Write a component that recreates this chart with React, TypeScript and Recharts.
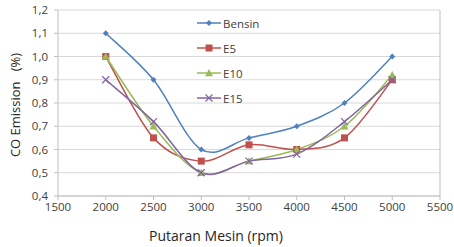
import React from 'react';
import { LineChart, Line, XAxis, YAxis, CartesianGrid } from 'recharts';

const rpm = [2000, 2500, 3000, 3500, 4000, 4500, 5000];
const bensin = [1.1, 0.9, 0.6, 0.65, 0.7, 0.8, 1.0];
const e5 = [1.0, 0.65, 0.55, 0.62, 0.6, 0.65, 0.9];
const e10 = [1.0, 0.7, 0.5, 0.55, 0.6, 0.7, 0.92];
const e15 = [0.9, 0.72, 0.5, 0.55, 0.58, 0.72, 0.9];
const seriesNames = ['Bensin', 'E5', 'E10', 'E15'];
const xTicks = [1500, 2000, 2500, 3000, 3500, 4000, 4500, 5000, 5500];
const yTicks = [0.4, 0.5, 0.6, 0.7, 0.8, 0.9, 1.0, 1.1, 1.2];

const data = rpm.map((r, i) => ({ rpm: r, Bensin: bensin[i], E5: e5[i], E10: e10[i], E15: e15[i] }));

const FONT = 'Open Sans, sans-serif';
const COLORS: Record<string, string> = { Bensin: '#4F81BD', E5: '#C0504D', E10: '#9BBB59', E15: '#8064A2' };

// Excel-like smoothed line (Catmull-Rom style bezier)
const excelCurve = (context: any) => {
  let pts: number[][] = [];
  return {
    areaStart() {},
    areaEnd() {},
    lineStart() { pts = []; },
    point(x: number, y: number) { pts.push([+x, +y]); },
    lineEnd() {
      if (!pts.length) return;
      context.moveTo(pts[0][0], pts[0][1]);
      for (let i = 0; i < pts.length - 1; i++) {
        const p0 = pts[i - 1] || pts[i];
        const p1 = pts[i];
        const p2 = pts[i + 1];
        const p3 = pts[i + 2] || pts[i + 1];
        const c1x = p1[0] + (p2[0] - p0[0]) / 6;
        const c1y = p1[1] + (p2[1] - p0[1]) / 6;
        const c2x = p2[0] - (p3[0] - p1[0]) / 6;
        const c2y = p2[1] - (p3[1] - p1[1]) / 6;
        context.bezierCurveTo(c1x, c1y, c2x, c2y, p2[0], p2[1]);
      }
    },
  };
};

const Marker = ({ kind, cx, cy, color }: { kind: string; cx: number; cy: number; color: string }) => {
  if (cx == null || cy == null) return null;
  if (kind === 'Bensin') {
    const r = 3;
    return <path d={`M${cx},${cy - r}L${cx + r},${cy}L${cx},${cy + r}L${cx - r},${cy}Z`} fill={color} />;
  }
  if (kind === 'E5') {
    const r = 3.5;
    return <rect x={cx - r} y={cy - r} width={2 * r} height={2 * r} fill={color} />;
  }
  if (kind === 'E10') {
    const r = 4;
    return <path d={`M${cx},${cy - r}L${cx + r},${cy + r * 0.8}L${cx - r},${cy + r * 0.8}Z`} fill={color} />;
  }
  const r = 3.5;
  return (
    <path d={`M${cx - r},${cy - r}L${cx + r},${cy + r}M${cx + r},${cy - r}L${cx - r},${cy + r}`} stroke={color} strokeWidth={1.2} fill="none" />
  );
};

const makeDot = (kind: string) => (props: any) => (
  <Marker key={`${kind}-${props.index}`} kind={kind} cx={props.cx} cy={props.cy} color={COLORS[kind]} />
);

export default function App() {
  return (
    <div style={{ position: 'absolute', left: 0, top: 0, background: '#fff' }}>
      <LineChart width={454} height={247} data={data} margin={{ top: 10, right: 14, left: 0, bottom: 0 }}>
        <CartesianGrid horizontal vertical={false} stroke="#d9d9d9" />
        <XAxis
          dataKey="rpm"
          type="number"
          domain={[1500, 5500]}
          ticks={xTicks}
          interval={0}
          tick={{ fontSize: 11.5, fontFamily: FONT, fill: '#404040' }}
          tickLine={{ stroke: '#bfbfbf' }}
          axisLine={{ stroke: '#bfbfbf' }}
          tickSize={4}
          tickMargin={3}
          height={51}
          label={{ value: 'Putaran Mesin (rpm)', position: 'insideBottom', offset: 6, dx: -33, fontSize: 14, fontFamily: FONT, fill: '#262626' }}
        />
        <YAxis
          type="number"
          domain={[0.4, 1.2]}
          ticks={yTicks}
          interval={0}
          width={58}
          tickFormatter={(v: number) => v.toFixed(1).replace('.', ',')}
          tick={{ fontSize: 11.5, fontFamily: FONT, fill: '#404040' }}
          tickLine={{ stroke: '#bfbfbf' }}
          axisLine={{ stroke: '#bfbfbf' }}
          tickSize={4}
          tickMargin={6}
          label={{
            content: () => (
              <text
                x={15}
                y={105}
                transform="rotate(-90, 15, 105)"
                textAnchor="middle"
                dominantBaseline="central"
                fontSize={13}
                fontFamily={FONT}
                fill="#262626"
                style={{ whiteSpace: 'pre' }}
              >
                {'CO Emission   (%)'}
              </text>
            ),
          }}
        />
        {seriesNames.map((k) => (
          <Line
            key={k}
            dataKey={k}
            type={excelCurve as any}
            stroke={COLORS[k]}
            strokeWidth={1.5}
            dot={makeDot(k)}
            activeDot={false}
            isAnimationActive={false}
          />
        ))}
      </LineChart>
      <svg style={{ position: 'absolute', left: 0, top: 0, pointerEvents: 'none' }} width={454} height={247}>
        <line x1={440} x2={440} y1={10} y2={196} stroke="#bfbfbf" />
        {seriesNames.map((name, i) => {
          const y = 23 + i * 25;
          return (
            <g key={name}>
              <line x1={197} x2={221} y1={y} y2={y} stroke={COLORS[name]} strokeWidth={1.5} />
              <Marker kind={name} cx={209} cy={y} color={COLORS[name]} />
              <text x={223} y={y} dominantBaseline="central" fontSize={11.5} fontFamily={FONT} fill="#404040">{name}</text>
            </g>
          );
        })}
      </svg>
    </div>
  );
}
